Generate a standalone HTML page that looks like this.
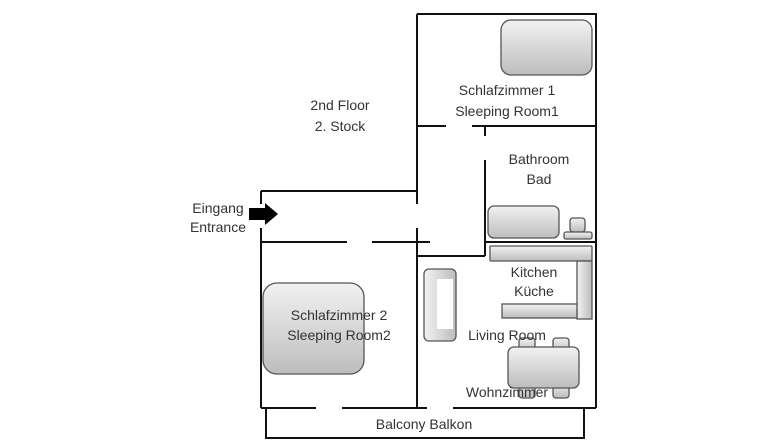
<!DOCTYPE html><html><head><style>body{margin:0;background:#fff}svg text{font-family:"Liberation Sans",sans-serif;font-size:14px;fill:#333;text-anchor:middle}</style></head><body>
<svg width="783" height="440" viewBox="0 0 783 440" xmlns="http://www.w3.org/2000/svg">
<defs><linearGradient id="g" x1="0" y1="0" x2="0" y2="1"><stop offset="0" stop-color="#f2f2f2"/><stop offset="1" stop-color="#bdbdbd"/></linearGradient>
<linearGradient id="gh" x1="0" y1="0" x2="1" y2="0"><stop offset="0" stop-color="#f2f2f2"/><stop offset="1" stop-color="#bdbdbd"/></linearGradient></defs>
<g stroke="#111" stroke-width="2" fill="none">
<path d="M417 14H596V408"/>
<path d="M417 14V204M417 228V408"/>
<path d="M417 126H446M472 126H596"/>
<path d="M485 126V136M485 160V256"/>
<path d="M485 242H596M418 256H485"/>
<path d="M261 191H418M261 191V204M261 228V408"/>
<path d="M261 242H347M372 242H430"/>
<path d="M261 408H316M342 408H427M453 408H596"/>
<path d="M266 408V438H584V408"/>
</g>
<g stroke="#555" stroke-width="1.3">
<rect x="501" y="20" width="91" height="55" rx="10" fill="url(#g)"/>
<rect x="263" y="283" width="101" height="91" rx="14" fill="url(#g)"/>
<rect x="488" y="206" width="71" height="32" rx="6" fill="url(#g)"/>
<rect x="570" y="218" width="15" height="14" rx="3" fill="url(#g)"/>
<rect x="564" y="232" width="28" height="7" rx="2" fill="url(#g)"/>
<rect x="490" y="246" width="102" height="15" rx="1" fill="url(#g)"/>
<rect x="577" y="261" width="15" height="58" fill="url(#gh)"/>
<rect x="502" y="304" width="75" height="14" fill="url(#g)"/>
<rect x="424" y="269" width="32" height="72" rx="5" fill="url(#gh)"/>
<rect x="437" y="279" width="16" height="50" fill="#fff" stroke="none"/>
<rect x="519" y="338" width="16" height="14" rx="3" fill="url(#g)"/>
<rect x="553" y="338" width="16" height="14" rx="3" fill="url(#g)"/>
<rect x="519" y="382" width="16" height="16" rx="3" fill="url(#g)"/>
<rect x="553" y="382" width="16" height="16" rx="3" fill="url(#g)"/>
<rect x="508" y="347" width="71" height="41" rx="6" fill="url(#g)"/>
</g>
<path d="M249 208H265V203L278 214L265 225V220H249Z" fill="#000"/>
<text x="340" y="110">2nd Floor</text><text x="340" y="131">2. Stock</text>
<text x="507" y="95">Schlafzimmer 1</text><text x="507" y="116">Sleeping Room1</text>
<text x="539" y="164">Bathroom</text><text x="539" y="184">Bad</text>
<text x="534" y="277">Kitchen</text><text x="534" y="296">Küche</text>
<text x="218" y="213">Eingang</text><text x="218" y="232">Entrance</text>
<text x="339" y="320">Schlafzimmer 2</text><text x="339" y="340">Sleeping Room2</text>
<text x="507" y="340">Living Room</text>
<text x="507" y="397">Wohnzimmer</text>
<text x="424" y="429">Balcony Balkon</text>
</svg></body></html>
